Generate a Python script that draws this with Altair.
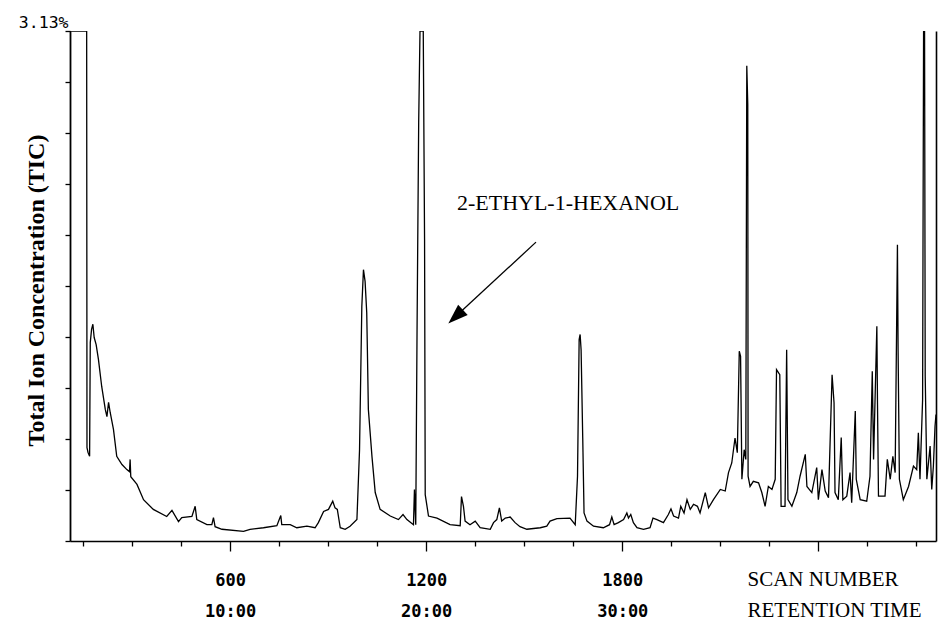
import altair as alt
import pandas as pd

# ---- chromatogram trace (scan number, TIC as % of full scale 3.13%) ----
scan = [
    110, 111, 161, 162, 165, 170, 172, 176, 180, 184, 190, 197, 207, 218, 223, 228, 233, 243, 253, 269,
    284, 292, 294, 296, 315, 335, 365, 406, 422, 442, 452, 483, 493, 498, 529, 544, 549, 554, 575, 641, 661,
    702, 743, 755, 758, 784, 804, 835, 860, 870, 886, 901, 914, 921, 928, 937, 952, 967, 988, 996, 1003,
    1008, 1013, 1018, 1020, 1023, 1034, 1044, 1059, 1090, 1115, 1129, 1141, 1161, 1164, 1168, 1172, 1177, 1181, 1191, 1195,
    1197, 1207, 1233, 1273, 1304, 1308, 1314, 1319, 1334, 1350, 1365, 1396, 1406, 1416, 1424, 1431, 1442, 1457, 1472, 1487,
    1508, 1549, 1569, 1579, 1600, 1640, 1656, 1663, 1668, 1671, 1674, 1679, 1683, 1692, 1712, 1742, 1761, 1768, 1775, 1788,
    1804, 1814, 1819, 1826, 1834, 1845, 1865, 1885, 1894, 1906, 1926, 1941, 1949, 1957, 1972, 1979, 1989, 1998, 2008, 2018, 2030,
    2038, 2054, 2064, 2079, 2100, 2115, 2125, 2135, 2145, 2152, 2158, 2162, 2166, 2173, 2178, 2181, 2184, 2185, 2191, 2201,
    2217, 2227, 2237, 2247, 2258, 2268, 2272, 2282, 2286, 2298, 2303, 2307, 2319, 2334, 2344, 2360, 2365, 2380, 2395, 2400,
    2411, 2421, 2431, 2442, 2448, 2451, 2461, 2470, 2475, 2487, 2497, 2502, 2513, 2516, 2528, 2548, 2558, 2565, 2569, 2579,
    2581, 2584, 2604, 2611, 2620, 2628, 2635, 2642, 2644, 2648, 2660, 2676, 2691, 2701, 2706, 2711, 2719, 2722, 2725, 2727,
    2732, 2742, 2747, 2752, 2757, 2760,
]
tic = [
    13.4, 100, 100, 18.3, 17.4, 16.6, 38.9, 41.5, 42.5, 39.9, 38.5, 35.6, 30.3, 25.8, 24.4, 27.2, 25.2, 21.9, 16.6, 15.0,
    14.0, 13.6, 16.0, 12.6, 11.1, 8.1, 6.2, 4.8, 6.0, 3.8, 4.6, 4.8, 6.8, 4.2, 3.2, 3.2, 4.6, 2.8, 2.3, 1.9, 2.3,
    2.6, 3.0, 5.0, 3.2, 3.2, 2.6, 2.9, 2.6, 3.6, 5.8, 6.2, 7.8, 6.5, 6.2, 2.6, 2.3, 2.9, 4.2, 17.9, 46.0,
    53.2, 50.9, 44.8, 37.5, 25.8, 16.6, 9.5, 6.2, 4.9, 4.2, 5.2, 4.2, 3.2, 10.1, 3.2, 41.5, 82.1, 100, 100, 59.1,
    9.1, 4.9, 4.5, 3.2, 3.0, 8.7, 6.8, 3.9, 3.2, 3.9, 2.6, 2.3, 3.6, 4.2, 6.5, 3.9, 4.5, 4.7, 3.6, 2.8,
    2.3, 2.6, 2.9, 3.9, 4.4, 4.5, 3.2, 12.7, 39.5, 40.5, 37.5, 20.2, 5.5, 3.9, 2.9, 2.6, 3.2, 4.7, 3.2, 3.6,
    4.2, 5.5, 4.5, 5.2, 3.6, 2.6, 2.3, 2.6, 4.5, 4.2, 3.6, 5.2, 6.3, 4.9, 4.5, 6.8, 5.5, 8.1, 6.2, 7.2, 6.8,
    5.5, 9.5, 6.5, 8.1, 10.1, 9.8, 13.4, 15.3, 20.2, 17.3, 37.2, 36.2, 12.1, 17.9, 16.0, 93.2, 85.6, 12.7, 10.7, 11.7,
    11.4, 9.5, 6.8, 10.7, 10.1, 12.1, 33.6, 32.6, 6.8, 6.8, 37.5, 8.1, 6.8, 9.5, 12.7, 17.0, 10.7, 9.5, 14.4, 8.1,
    14.0, 9.8, 8.5, 32.6, 27.1, 9.5, 8.1, 20.3, 8.1, 8.8, 13.4, 7.5, 25.5, 12.1, 8.1, 7.8, 12.7, 33.3, 16.0, 42.1,
    26.8, 8.8, 8.8, 16.0, 12.1, 16.6, 13.4, 58.1, 37.5, 12.1, 8.1, 10.7, 14.7, 14.0, 21.2, 12.1, 27.7, 100, 100, 32.3,
    12.1, 18.6, 10.1, 14.7, 22.5, 24.8,
]
assert len(scan) == len(tic)

# axis tick values
x_ticks = list(range(150, 2701, 150))
y_ticks = list(range(0, 101, 10))
full_scale_label = "3.13%"

# annotation
label_text = ["2-ETHYL-1-HEXANOL"]
label_scan = [1294]
label_tic = [66.2]
arrow_scan = [1536]
arrow_tic = [58.6]
arrow_scan2 = [1290]
arrow_tic2 = [44.0]

df = pd.DataFrame({"scan": scan, "tic": tic, "order": list(range(len(scan)))})
df_label = pd.DataFrame({"text": label_text, "scan": label_scan, "tic": label_tic})
df_arrow = pd.DataFrame({"scan": arrow_scan, "tic": arrow_tic, "scan2": arrow_scan2, "tic2": arrow_tic2})

x_scale = alt.Scale(domain=[110, 2760], nice=False, zero=False)
y_scale = alt.Scale(domain=[0, 100], nice=False, zero=False)

mono = "DejaVu Sans Mono"
serif = "Liberation Serif"

x_axis = alt.Axis(
    values=x_ticks,
    tickSize={"condition": {"test": "datum.value % 600 === 0", "value": 10}, "value": 5},
    tickColor="black", tickWidth=1.3,
    domainColor="black", domainWidth=1.6,
    grid=False,
    labelExpr="(datum.value % 600 === 0 && datum.value <= 1800) ? [format(datum.value, 'd'), format(datum.value / 60, 'd') + ':00'] : ''",
    labelFont=mono, labelFontSize=17, labelFontWeight="bold", labelColor="black",
    labelBaseline="alphabetic", labelLineHeight=31, labelPadding=34,
    labelFlush=False, labelOverlap=False,
    title=["SCAN NUMBER", "RETENTION TIME"],
    titleFont=serif, titleFontSize=21, titleFontWeight="normal", titleColor="black",
    titleAlign="left", titleBaseline="alphabetic", titleLineHeight=31,
    titleX=677, titleY=44,
)

y_axis = alt.Axis(
    values=y_ticks,
    tickSize=5, tickColor="black", tickWidth=1.3,
    domainColor="black", domainWidth=1.8,
    grid=False,
    labelExpr=f"datum.value === 100 ? '{full_scale_label}' : ''",
    labelFont=mono, labelFontSize=16.5, labelColor="black",
    labelAlign="right", labelBaseline="alphabetic", labelOffset=-4, labelPadding=-3,
    labelFlush=False, labelOverlap=False,
    title="Total Ion Concentration (TIC)",
    titleFont=serif, titleFontSize=24, titleFontWeight="bold", titleColor="black",
    titleAngle=-90, titleAlign="center", titleBaseline="alphabetic",
    titleX=-27, titleY=259,
)

y_axis_right = alt.Axis(
    orient="right", values=y_ticks, ticks=False, labels=False, grid=False,
    domainColor="black", domainWidth=1.6, title=None,
)

line = alt.Chart(df).mark_line(color="black", strokeWidth=1.3, clip=True).encode(
    x=alt.X("scan:Q", scale=x_scale, axis=x_axis),
    y=alt.Y("tic:Q", scale=y_scale, axis=y_axis),
    order="order:Q",
)

right = alt.Chart(df).mark_line(strokeOpacity=0, clip=True).encode(
    x=alt.X("scan:Q", scale=x_scale, axis=None),
    y=alt.Y("tic:Q", scale=y_scale, axis=y_axis_right),
    order="order:Q",
)

label = alt.Chart(df_label).mark_text(
    font=serif, fontSize=22, color="black", align="left", baseline="middle"
).encode(
    x=alt.X("scan:Q", scale=x_scale, axis=None),
    y=alt.Y("tic:Q", scale=y_scale, axis=None),
    text="text:N",
)

arrow = alt.Chart(df_arrow).mark_rule(color="black", strokeWidth=1.3).encode(
    x=alt.X("scan:Q", scale=x_scale, axis=None),
    y=alt.Y("tic:Q", scale=y_scale, axis=None),
    x2="scan2:Q",
    y2="tic2:Q",
)

head = alt.Chart(df_arrow).mark_point(
    shape="M0,-1L-0.7,1L0.7,1Z", filled=True, color="black", opacity=1, size=400, angle=227
).encode(
    x=alt.X("scan2:Q", scale=x_scale, axis=None),
    y=alt.Y("tic2:Q", scale=y_scale, axis=None),
)

chart = (
    alt.layer(line, right, arrow, head, label)
    .resolve_axis(y="independent", x="independent")
    .properties(
        width=866, height=510,
        padding={"left": 70, "top": 31, "right": 3, "bottom": 80},
        autosize=alt.AutoSizeParams(type="none"),
        background="white",
    )
    .configure_view(stroke=None)
)

chart.save("out.html", embed_options={"renderer": "svg", "actions": False})
